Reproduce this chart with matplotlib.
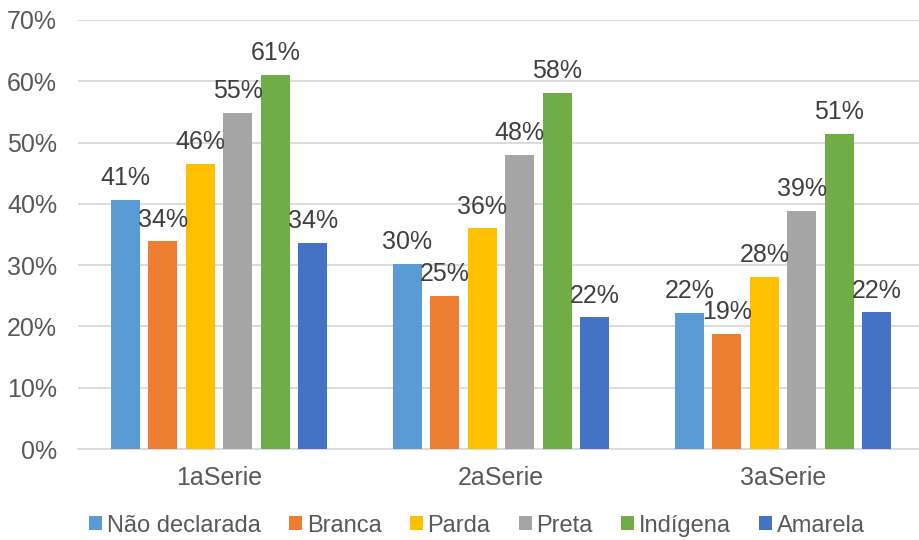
import numpy as np
import matplotlib
matplotlib.use("Agg")
import matplotlib.pyplot as plt

plt.rcParams['font.family'] = ['Liberation Sans', 'DejaVu Sans']

# dados
grupos = ["1aSerie", "2aSerie", "3aSerie"]
series = ["Não declarada", "Branca", "Parda", "Preta", "Indígena", "Amarela"]
cores = ["#5B9BD5", "#ED7D31", "#FFC000", "#A5A5A5", "#70AD47", "#4472C4"]
nao_declarada = [40.6, 30.2, 22.2]
branca = [33.9, 25.0, 18.8]
parda = [46.5, 36.0, 28.1]
preta = [54.8, 48.0, 38.8]
indigena = [61.0, 58.1, 51.4]
amarela = [33.6, 21.5, 22.3]
valores = [nao_declarada, branca, parda, preta, indigena, amarela]

fig = plt.figure(figsize=(9.19, 5.4), dpi=100)
ax = fig.add_axes([78 / 919, 0.1685, 841 / 919, 0.7945])

x = np.arange(len(grupos))
passo = 0.133
largura = 0.103
for i, (nome, vals) in enumerate(zip(series, valores)):
    pos = x + (i - 2.5) * passo
    ax.bar(pos, vals, width=largura, color=cores[i], label=nome, zorder=3)
    for p, v in zip(pos, vals):
        ax.annotate("%d%%" % round(v), (p, v), xytext=(0, 7), textcoords="offset points",
                    ha="center", va="bottom", fontsize=18, color="#404040", zorder=4)

ax.set_xlim(-0.5, 2.482)
ax.set_ylim(0, 70)
ax.set_yticks(range(0, 71, 10))
ax.set_yticklabels(["%d%%" % t for t in range(0, 71, 10)])
ax.set_xticks(x)
ax.set_xticklabels(grupos)
ax.tick_params(axis="both", length=0, labelsize=18, colors="#595959")
ax.tick_params(axis="y", pad=15)
ax.tick_params(axis="x", pad=12)
ax.grid(axis="y", color="#D9D9D9", linewidth=1.3, zorder=0)
for s in ["top", "right", "left"]:
    ax.spines[s].set_visible(False)
ax.spines["bottom"].set_color("#D9D9D9")
ax.spines["bottom"].set_linewidth(1.3)

leg = fig.legend(loc="lower center", bbox_to_anchor=(0.519, -0.033), ncol=6, frameon=False,
                 fontsize=17, handlelength=0.55, handleheight=0.55, handletextpad=0.2,
                 columnspacing=1.2, labelcolor="#595959")

fig.savefig("out.png", dpi=100)
